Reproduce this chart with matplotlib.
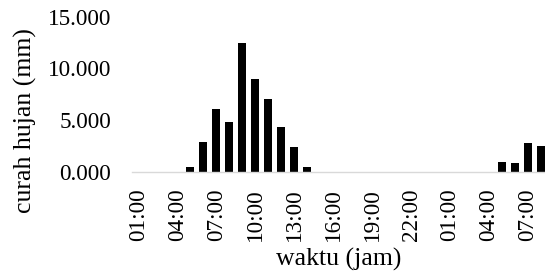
import matplotlib.pyplot as plt
import numpy as np

# data: hourly rainfall (mm), 01:00 day 1 .. 08:00 day 2
hours = [f"{(h % 24) if h % 24 else 24:02d}:00" for h in range(1, 33)]
rain = [0, 0, 0, 0, 0.48, 2.85, 6.07, 4.78, 12.48, 8.97, 7.03, 4.30, 2.36, 0.45,
        0, 0, 0, 0, 0, 0, 0, 0, 0, 0,
        0, 0, 0, 0, 0.91, 0.84, 2.81, 2.49]
yticks = [0, 5, 10, 15]

plt.rcParams['font.family'] = ['Liberation Serif', 'DejaVu Serif']

fig = plt.figure(figsize=(5.45, 2.77), dpi=100)
ax = fig.add_axes([131.7 / 545, 1 - 171.7 / 277, 1 - 131.7 / 545, (171.7 - 16.7) / 277])

x = np.arange(len(hours))
ax.bar(x, rain, width=0.64, color='black')

ax.set_xlim(-0.5, 31.3)
ax.set_ylim(0, 15)
ax.set_yticks(yticks)
ax.set_yticklabels([f"{v:.3f}" for v in yticks])
ax.set_xticks(x[::3])
ax.set_xticklabels(hours[::3], rotation=90)
ax.tick_params(axis='both', length=0, labelsize=16.7)
ax.tick_params(axis='y', pad=15)
ax.tick_params(axis='x', pad=12)

for s in ['top', 'right', 'left']:
    ax.spines[s].set_visible(False)
ax.spines['bottom'].set_color('#d9d9d9')
ax.spines['bottom'].set_linewidth(1.0)

fig.text(25 / 545, 1 - 120.5 / 277, 'curah hujan (mm)', rotation=90,
         ha='center', va='center', fontsize=18.5)
fig.text(339 / 545, 1 - 266 / 277, 'waktu (jam)', ha='center', va='baseline',
         fontsize=18.5)

fig.savefig('out.png', dpi=100)
